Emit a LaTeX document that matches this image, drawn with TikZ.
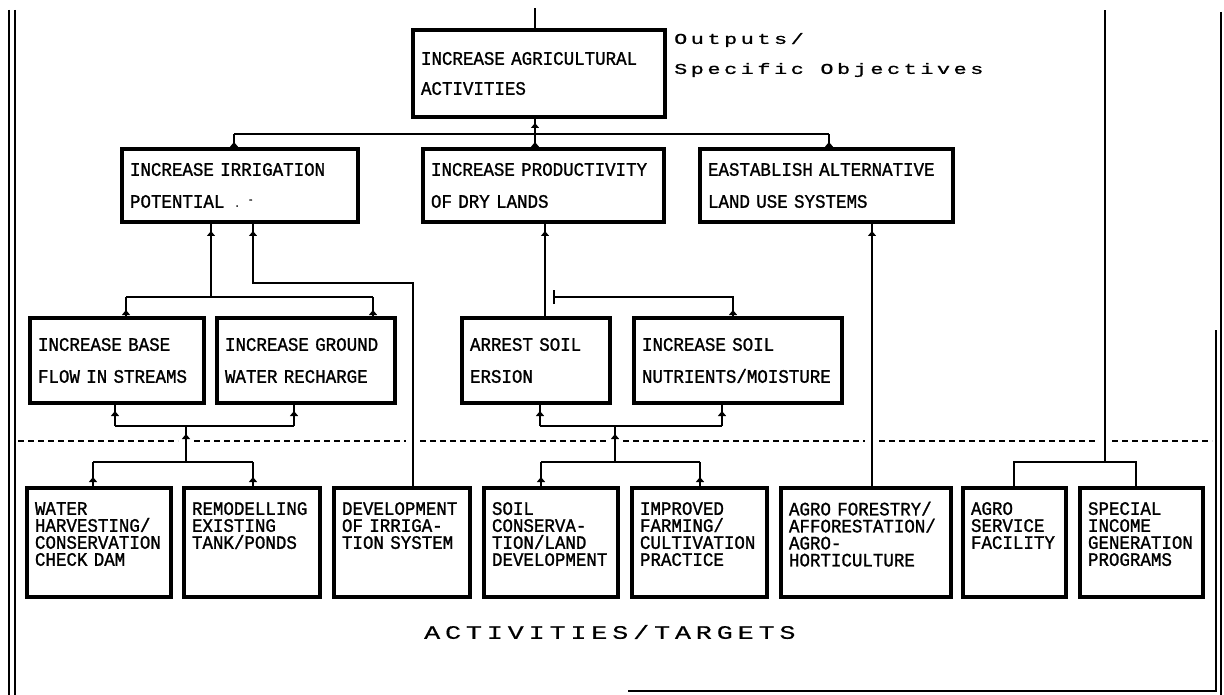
\documentclass[tikz,border=0pt]{standalone}
\usepackage{fontspec}
\usetikzlibrary{arrows.meta,decorations.markings}
\newfontfamily\boxfont[FakeStretch=0.92,FakeBold=1.2]{Liberation Mono}
\newfontfamily\headfont[FakeStretch=1.45,LetterSpace=24,FakeBold=1]{Liberation Mono}
\newfontfamily\footfont[FakeStretch=1.4,LetterSpace=26,FakeBold=0.6]{Liberation Mono}

\begin{document}
\begin{tikzpicture}[x=1pt,y=-1pt,
  box/.style={draw, line width=3.4pt, anchor=north west, inner xsep=8pt, inner ysep=0pt, outer sep=0pt, align=left},
  two/.style={box, font=\boxfont\fontsize{19}{32}\selectfont},
  four/.style={box, font=\boxfont\fontsize{19}{17}\selectfont},
  conn/.style={line width=2pt},
  mk/.style={postaction={decorate,decoration={markings,mark=at position #1 with {\arrow{Triangle[width=8pt,length=5pt]}}}}},
  frame/.style={line width=2pt},
  divider/.style={line width=2pt, dash pattern=on 6pt off 4pt}]

\useasboundingbox[fill=white] (0,0) rectangle (1224,695);

% ---- outputs / specific objectives ----
\node[two, minimum width=252pt, minimum height=87pt, text width=236pt, font=\boxfont\fontsize{19}{30}\selectfont] (top) at (413,30) {INCREASE AGRICULTURAL\\ACTIVITIES};
\node[two, minimum width=236pt, minimum height=73pt, text width=220pt] (irr) at (122,149) {INCREASE IRRIGATION\\POTENTIAL\hspace{10pt}\raisebox{1pt}{\fontsize{10}{10}\selectfont .}\hspace{8pt}\raisebox{5pt}{\fontsize{10}{10}\selectfont -}};
\node[two, minimum width=241pt, minimum height=73pt, text width=225pt] (prod) at (423,149) {INCREASE PRODUCTIVITY\\OF DRY LANDS};
\node[two, minimum width=253pt, minimum height=73pt, text width=237pt] (est) at (700,149) {EASTABLISH ALTERNATIVE\\LAND USE SYSTEMS};

\node[two, minimum width=174pt, minimum height=85pt, text width=158pt] (base) at (30,318) {INCREASE BASE\\FLOW IN STREAMS};
\node[two, minimum width=178pt, minimum height=85pt, text width=162pt] (ground) at (217,318) {INCREASE GROUND\\WATER RECHARGE};
\node[two, minimum width=148pt, minimum height=85pt, text width=132pt] (arrest) at (462,318) {ARREST SOIL\\ERSION};
\node[two, minimum width=208pt, minimum height=85pt, text width=192pt] (nutr) at (634,318) {INCREASE SOIL\\NUTRIENTS/MOISTURE};

% ---- activities / targets ----
\node[four, minimum width=144pt, minimum height=109pt, text width=128pt] (water) at (27,488) {WATER\\HARVESTING/\\CONSERVATION\\CHECK DAM\\\mbox{}};
\node[four, minimum width=136pt, minimum height=109pt, text width=120pt] (remod) at (184,488) {REMODELLING\\EXISTING\\TANK/PONDS\\\mbox{}\\\mbox{}};
\node[four, minimum width=136pt, minimum height=109pt, text width=120pt] (devel) at (334,488) {DEVELOPMENT\\OF IRRIGA-\\TION SYSTEM\\\mbox{}\\\mbox{}};
\node[four, minimum width=134pt, minimum height=109pt, text width=118pt] (soil) at (484,488) {SOIL\\CONSERVA-\\TION/LAND\\DEVELOPMENT\\\mbox{}};
\node[four, minimum width=135pt, minimum height=109pt, text width=119pt] (impr) at (632,488) {IMPROVED\\FARMING/\\CULTIVATION\\PRACTICE\\\mbox{}};
\node[four, minimum width=170pt, minimum height=109pt, text width=154pt] (agrof) at (781,488) {AGRO FORESTRY/\\AFFORESTATION/\\AGRO-\\HORTICULTURE\\\mbox{}};
\node[four, minimum width=103pt, minimum height=109pt, text width=87pt] (agros) at (963,488) {AGRO\\SERVICE\\FACILITY\\\mbox{}\\\mbox{}};
\node[four, minimum width=123pt, minimum height=109pt, text width=107pt] (spec) at (1080,488) {SPECIAL\\INCOME\\GENERATION\\PROGRAMS\\\mbox{}};

% ---- headings ----
\node[anchor=west, inner sep=0pt, font=\headfont\fontsize{15}{15}\selectfont] (outa) at (674,40) {Outputs/};
\node[anchor=west, inner sep=0pt, font=\headfont\fontsize{15}{15}\selectfont] (outb) at (674,70) {Specific Objectives};
\node[anchor=west, inner sep=0pt, font=\footfont\fontsize{19}{19}\selectfont] (acts) at (424,632) {ACTIVITIES/TARGETS};

% ---- junction points ----
\coordinate (topin) at (535,8);
\coordinate (j1) at (535,134);
\coordinate (a1) at (234,134);
\coordinate (a3) at (829,134);
\coordinate (b0) at (126,297);
\coordinate (b1) at (211,297);
\coordinate (b2) at (373,297);
\coordinate (c1) at (253,283);
\coordinate (c2) at (413,283);
\coordinate (d1) at (545,297);
\coordinate (e0) at (553,297);
\coordinate (e1) at (733,297);
\coordinate (f1) at (872,297);
\coordinate (g0) at (115,426);
\coordinate (g1) at (186,426);
\coordinate (g2) at (294,426);
\coordinate (h0) at (93,462);
\coordinate (h1) at (186,462);
\coordinate (h2) at (253,462);
\coordinate (k0) at (540,426);
\coordinate (k1) at (615,426);
\coordinate (k2) at (722,426);
\coordinate (l0) at (541,462);
\coordinate (l1) at (615,462);
\coordinate (l2) at (700,462);
\coordinate (m0) at (1014,462);
\coordinate (m1) at (1105,462);
\coordinate (m2) at (1136,462);
\coordinate (mtop) at (1105,10);

% ---- connectors: top level ----
\draw[conn] (topin |- top.north) -- (topin);
\draw[conn, mk=11pt] (j1) -- (j1 |- top.south);
\draw[conn] (a1) -- (a3);
\draw[conn, mk=7pt] (a1 |- irr.north) -- (a1);
\draw[conn, mk=7pt] (j1 |- prod.north) -- (j1);
\draw[conn, mk=7pt] (a3 |- est.north) -- (a3);

% ---- irrigation potential ----
\draw[conn, mk=-9pt] (b1) -- (b1 |- irr.south);
\draw[conn] (b0) -- (b2);
\draw[conn, mk=8pt] (b0 |- base.north) -- (b0);
\draw[conn, mk=8pt] (b2 |- ground.north) -- (b2);
\draw[conn, mk=-9pt] (c2 |- devel.north) -- (c2) -- (c1) -- (c1 |- irr.south);

% ---- productivity of dry lands ----
\draw[conn, mk=-9pt] (d1 |- arrest.north) -- (d1 |- prod.south);
\draw[conn, mk=8pt, -{Bar[width=14pt]}] (e1 |- nutr.north) -- (e1) -- (e0);

% ---- alternative land use ----
\draw[conn, mk=-9pt] (f1 |- agrof.north) -- (f1 |- est.south);

% ---- base flow / ground water ----
\draw[conn, mk=15pt] (g0) -- (g0 |- base.south);
\draw[conn, mk=15pt] (g2) -- (g2 |- ground.south);
\draw[conn] (g0) -- (g2);
\draw[conn, mk=28pt] (h1) -- (g1);
\draw[conn] (h0) -- (h2);
\draw[conn, mk=11pt] (h0 |- water.north) -- (h0);
\draw[conn, mk=11pt] (h2 |- remod.north) -- (h2);

% ---- soil erosion / nutrients ----
\draw[conn, mk=15pt] (k0) -- (k0 |- arrest.south);
\draw[conn, mk=15pt] (k2) -- (k2 |- nutr.south);
\draw[conn] (k0) -- (k2);
\draw[conn, mk=28pt] (l1) -- (k1);
\draw[conn] (l0) -- (l2);
\draw[conn, mk=11pt] (l0 |- soil.north) -- (l0);
\draw[conn, mk=11pt] (l2 |- impr.north) -- (l2);

% ---- agro service / income generation ----
\draw[conn] (m0 |- agros.north) -- (m0) -- (m2) -- (m2 |- spec.north);
\draw[conn] (m1) -- (mtop);

% ---- divider between objectives and activities ----
\foreach \a/\b in {18/178,194/406,420/607,623/865,879/1098,1112/1212}
  \draw[divider] (\a,441) -- (\b,441);

% ---- page frame ----
\draw[frame] (9,10) -- (9,695);
\draw[frame] (14.5,10) -- (14.5,695);
\draw[frame] (1221,12) -- (1221,695);
\draw[frame] (1216,330) -- (1216,691) -- (628,691);
\end{tikzpicture}
\end{document}
